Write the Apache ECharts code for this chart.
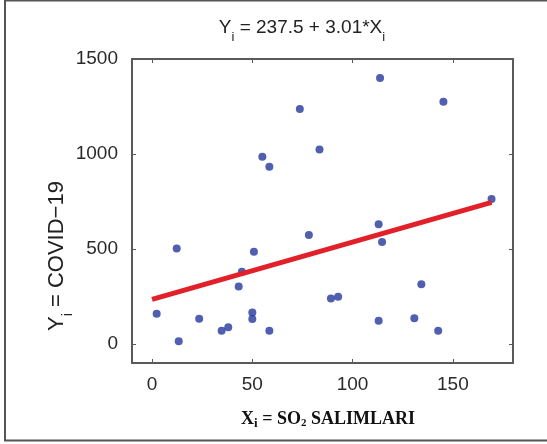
<!DOCTYPE html>
<html>
<head>
<meta charset="utf-8">
<script src="https://cdn.jsdelivr.net/npm/echarts@6/dist/echarts.min.js"></script>
<style>
  html, body { margin: 0; padding: 0; background: #fff; }
  #main { width: 547px; height: 444px; }
</style>
</head>
<body>
<div id="main"></div>
<script>
// SO2 emissions (x) vs COVID-19 (y)
var so2 = [73.7, 55, 58.5, 83.5, 113.7, 145.3, 169.3, 12.3, 50.8, 78.2, 44.8, 43.2,
  2.3, 23.5, 50, 50, 34.7, 38, 58.5, 13.3, 113, 114.7, 134.3, 89.2, 92.8, 113, 130.8, 142.7];
var covid = [1237, 986, 933, 1024, 1400, 1275, 763, 502, 486, 574, 380, 303,
  159, 133, 166, 131, 70, 88, 70, 14, 630, 537, 314, 240, 249, 123, 135, 70];

// fitted line ends
var fitX = [0, 169.3];
var fitY = [235, 745];

var xTicks = [0, 50, 100, 150];
var yTicks = [0, 500, 1000, 1500];

var points = so2.map(function (x, i) { return [x, covid[i]]; });
var fitLine = fitX.map(function (x, i) { return [x, fitY[i]]; });

var SANS = 'Liberation Sans';
var SERIF = 'Liberation Serif';

// text made of pieces (for subscripts), centred on cx, cy
function pieceLabel(pieces, cx, cy, rotation) {
  var ctx = document.createElement('canvas').getContext('2d');
  var total = 0;
  pieces.forEach(function (p) {
    ctx.font = (p.weight || 'normal') + ' ' + p.size + 'px "' + p.family + '"';
    p.w = ctx.measureText(p.text).width;
    total += p.w;
  });
  var x = -total / 2;
  var kids = [];
  pieces.forEach(function (p) {
    kids.push({
      type: 'text', x: x, y: p.dy || 0,
      style: {
        text: p.text, fontSize: p.size, fontFamily: p.family,
        fontWeight: p.weight || 'normal', fill: p.color || '#222',
        align: 'left', verticalAlign: 'middle'
      }
    });
    x += p.w;
  });
  return { type: 'group', x: cx, y: cy, rotation: rotation || 0, children: kids, silent: true };
}

var chart = echarts.init(document.getElementById('main'));

var axisCol = '#5a5a5a';
var labelStyle = {
  color: '#2a2a2a',
  fontFamily: SANS,
  fontSize: 19,
  formatter: function (v) { return String(v); }
};

var option = {
  animation: false,
  backgroundColor: '#fff',
  grid: { left: 132, right: 34, top: 59, bottom: 81 },
  xAxis: [{
    type: 'value', position: 'bottom', min: -10, max: 180, interval: 50,
    axisLine: { onZero: false, lineStyle: { color: axisCol, width: 2 } },
    axisTick: { inside: true, length: 4, customValues: xTicks, lineStyle: { color: axisCol } },
    axisLabel: Object.assign({ margin: 12, customValues: xTicks }, labelStyle),
    splitLine: { show: false }
  }, {
    type: 'value', position: 'top', min: -10, max: 180, interval: 50,
    axisLine: { onZero: false, lineStyle: { color: axisCol, width: 2 } },
    axisTick: { inside: true, length: 4, customValues: xTicks, lineStyle: { color: axisCol } },
    axisLabel: { show: false },
    splitLine: { show: false }
  }],
  yAxis: [{
    type: 'value', position: 'left', min: -100, max: 1500, interval: 500,
    axisLine: { show: true, onZero: false, lineStyle: { color: axisCol, width: 2 } },
    axisTick: { show: true, inside: true, length: 4, customValues: yTicks, lineStyle: { color: axisCol } },
    axisLabel: Object.assign({ margin: 14, customValues: yTicks }, labelStyle),
    splitLine: { show: false }
  }, {
    type: 'value', position: 'right', min: -100, max: 1500, interval: 500,
    axisLine: { show: true, onZero: false, lineStyle: { color: axisCol, width: 2 } },
    axisTick: { show: true, inside: true, length: 4, customValues: yTicks, lineStyle: { color: axisCol } },
    axisLabel: { show: false },
    splitLine: { show: false }
  }],
  series: [{
    type: 'scatter',
    data: points,
    symbolSize: 8,
    itemStyle: { color: '#26379c' }
  }, {
    type: 'line',
    data: fitLine,
    symbol: 'none',
    lineStyle: { color: '#e2202a', width: 5 },
    z: 3
  }],
  graphic: [{
    type: 'rect',
    shape: { x: 5, y: 0.5, width: 545, height: 440 },
    style: { fill: 'none', stroke: '#555', lineWidth: 2 },
    silent: true
  },
  pieceLabel([
    { text: 'Y', size: 19, family: SANS },
    { text: 'i', size: 13, family: SANS, dy: 9 },
    { text: ' = 237.5 + 3.01*X', size: 19, family: SANS },
    { text: 'i', size: 13, family: SANS, dy: 9 }
  ], 302, 28),
  pieceLabel([
    { text: 'Y', size: 22, family: SANS },
    { text: 'i', size: 14, family: SANS, dy: 11 },
    { text: ' = COVID\u221219', size: 22, family: SANS }
  ], 57, 256, Math.PI / 2),
  pieceLabel([
    { text: 'X', size: 18, family: SERIF, weight: 'bold', color: '#111' },
    { text: 'i', size: 13, family: SERIF, weight: 'bold', color: '#111', dy: 5 },
    { text: ' = SO', size: 18, family: SERIF, weight: 'bold', color: '#111' },
    { text: '2', size: 11, family: SERIF, weight: 'bold', color: '#111', dy: 4 },
    { text: ' SALIMLARI', size: 18, family: SERIF, weight: 'bold', color: '#111' }
  ], 328, 419)
  ]
};

chart.setOption(option);
</script>
</body>
</html>
